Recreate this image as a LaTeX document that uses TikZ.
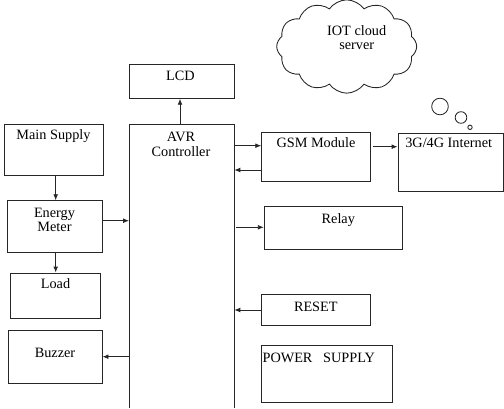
\documentclass[tikz,border=0pt]{standalone}
\usepackage{fontspec}
\setmainfont{Liberation Serif}
\newfontfamily\tnr{Liberation Serif}
\usetikzlibrary{fit,arrows.meta,shapes.symbols}
\begin{document}
\begin{tikzpicture}[x=0.75pt,y=-0.75pt,
  box/.style={draw=black!85,line width=0.65pt,inner sep=0pt,fit={#1}},
  txt/.style={inner sep=0pt,align=center,font=\tnr\fontsize{10.7}{10.9}\selectfont},
  arr/.style={draw=black!85,line width=0.65pt,-{Latex[length=4.5pt,width=3.6pt]}}]
\useasboundingbox (0,0) rectangle (504,408);
% boxes
\node[box={(4,124.7) (103,175.7)}] (ms) {};
\node[box={(7,200.7) (102,252)}] (em) {};
\node[box={(10.7,273) (100.7,318)}] (ld) {};
\node[box={(8.3,330.7) (102,383)}] (bz) {};
\node[box={(129.3,64) (234,98.3)}] (lcd) {};
\node[inner sep=0pt,fit={(129.3,124.7) (234,408)}] (avr) {};
\draw[black!85,line width=0.65pt] (avr.south west) -- (avr.north west) -- (avr.north east) -- (avr.south east);
\node[box={(261.7,132.3) (370,181)}] (gsm) {};
\node[box={(398,133.3) (503.4,191.7)}] (net) {};
\node[box={(264.3,206.7) (402.3,249.3)}] (rel) {};
\node[box={(261,294) (370,325)}] (rst) {};
\node[box={(261,345.7) (392.3,402.3)}] (ps) {};
% texts
\node[txt] (tms) at (53.5,136.5) {Main Supply};
\node[txt] (tem) at (54.5,220) {Energy\\Meter};
\node[txt] (tld) at (55.5,284) {Load};
\node[txt] (tbz) at (55,353) {Buzzer};
\node[txt] (tlcd) at (180.5,76) {LCD};
\node[txt] (tavr) at (181,144.5) {AVR\\Controller};
\node[txt] (tgsm) at (316,143) {GSM Module};
\node[txt] (tnet) at (448.7,143) {3G/4G Internet};
\node[txt] (trel) at (338.3,220) {Relay};
\node[txt] (trst) at (315.8,306.7) {RESET};
\node[txt,anchor=west] (tps) at (262.3,358) {POWER\ \ \ SUPPLY};
% cloud
\node[cloud,draw=black!85,line width=0.65pt,cloud puffs=12,cloud puff arc=110,aspect=1.5,
  minimum width=105pt,minimum height=70pt,inner sep=0pt] (cl) at (346.7,46.5) {};
\node[txt] (tcl) at (356.7,37.5) {IOT cloud\\server};
\draw[black!85,line width=0.65pt] (440,106.5) circle[radius=8.3];
\node[circle,draw=black!85,line width=0.65pt,minimum size=8.7pt,inner sep=0pt] (b2) at (461,117.5) {};
\node[circle,draw=black!85,line width=0.65pt,minimum size=3.3pt,inner sep=0pt] (b3) at (470,127.3) {};
% arrows
\draw[arr] (ms.south -| 55.7,0) -- (em.north -| 55.7,0);
\draw[arr] (em.south -| 55.7,0) -- (ld.north -| 55.7,0);
\draw[arr] (em.east |- 0,220.7) -- (avr.west |- 0,220.7);
\draw[arr] (avr.west |- 0,356.7) -- (bz.east |- 0,356.7);
\draw[arr] (avr.north -| 180,0) -- (lcd.south -| 180,0);
\draw[arr] (avr.east |- 0,145.7) -- (gsm.west |- 0,145.7);
\draw[arr] (gsm.west |- 0,170) -- (avr.east |- 0,170);
\draw[arr] (gsm.east |- 0,146.7) ++(3,0) -- (net.west |- 0,146.7);
\draw[arr] (avr.east |- 0,227.3) ++(2,0) -- (rel.west |- 0,227.3);
\draw[arr] (rst.west |- 0,310) -- (avr.east |- 0,310);
\end{tikzpicture}
\end{document}
